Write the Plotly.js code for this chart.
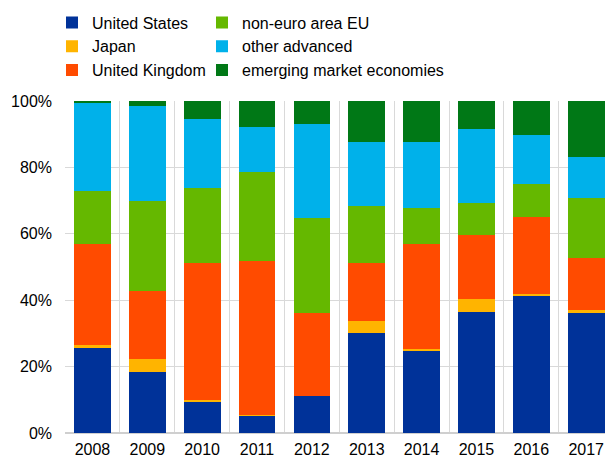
<!DOCTYPE html>
<html>
<head>
<meta charset="utf-8">
<script src="https://cdn.plot.ly/plotly-3.0.1.min.js"></script>
<style>html,body{margin:0;padding:0;background:#fff;}#chart{width:605px;height:459px;}</style>
</head>
<body>
<div id="chart"></div>
<script>
const years = ["2008","2009","2010","2011","2012","2013","2014","2015","2016","2017"];
const unitedStates = [25.6, 18.4, 9.3, 5.2, 11.1, 30.0, 24.6, 36.3, 41.4, 36.0];
const japan = [1.0, 4.0, 0.7, 0.3, 0.1, 3.8, 0.6, 4.0, 0.5, 1.1];
const unitedKingdom = [30.4, 20.3, 41.2, 46.4, 24.9, 17.5, 31.6, 19.3, 23.3, 15.7];
const nonEuroEU = [15.8, 27.2, 22.5, 26.6, 28.7, 17.0, 10.9, 9.8, 9.7, 18.1];
const otherAdvanced = [26.7, 28.7, 20.8, 13.6, 28.3, 19.5, 20.1, 22.2, 14.9, 12.1];
const emerging = [0.5, 1.4, 5.5, 7.9, 7.0, 12.2, 12.2, 8.4, 10.2, 17.0];

const seriesNames = ["United States","Japan","United Kingdom","non-euro area EU","other advanced","emerging market economies"];
const seriesValues = [unitedStates, japan, unitedKingdom, nonEuroEU, otherAdvanced, emerging];
const colors = ["#003299","#ffb400","#ff4b00","#65b800","#00b1ea","#007816"];
const legendIds = ["legend","legend","legend","legend2","legend2","legend2"];

const traces = seriesNames.map((n,i)=>({
  type:"bar", name:n, x:years, y:seriesValues[i],
  marker:{color:colors[i], line:{width:0}},
  legend:legendIds[i], hoverinfo:"skip"
}));

const font = {family:"Liberation Sans, Arial, sans-serif", size:16, color:"#000"};
const legendCommon = {
  orientation:"v", xref:"container", yref:"container", yanchor:"top", xanchor:"left",
  font:{family:font.family, size:16, color:"#000"}, bgcolor:"rgba(0,0,0,0)", borderwidth:0,
  traceorder:"normal", tracegroupgap:0
};
const layout = {
  width:605, height:459,
  margin:{l:65, r:0, t:101, b:26, pad:0, autoexpand:false},
  barmode:"stack", bargap:0.33,
  paper_bgcolor:"#fff", plot_bgcolor:"#fff",
  font:font,
  showlegend:true,
  legend:Object.assign({}, legendCommon, {x:52/605, y:1-5.5/459}),
  legend2:Object.assign({}, legendCommon, {x:202/605, y:1-5.5/459}),
  xaxis:{type:"category", range:[-0.5, 9.343], tickson:"boundaries", showgrid:true,
         gridcolor:"#d9d9d9", gridwidth:1, ticks:"", showline:false, zeroline:false,
         tickangle:0, automargin:false,
         ticklabelstandoff:5, tickfont:font, fixedrange:true},
  yaxis:{range:[0,100], tickvals:[0,20,40,60,80,100], ticktext:["0%","20%","40%","60%","80%","100%"],
         showgrid:true, gridcolor:"#d9d9d9", gridwidth:1, zeroline:true, zerolinecolor:"#cfcfcf",
         zerolinewidth:1.5, ticks:"", showline:false, automargin:false,
         ticklabelstandoff:12, tickfont:font, fixedrange:true}
};
Plotly.newPlot("chart", traces, layout, {staticPlot:true, displayModeBar:false});
</script>
</body>
</html>
